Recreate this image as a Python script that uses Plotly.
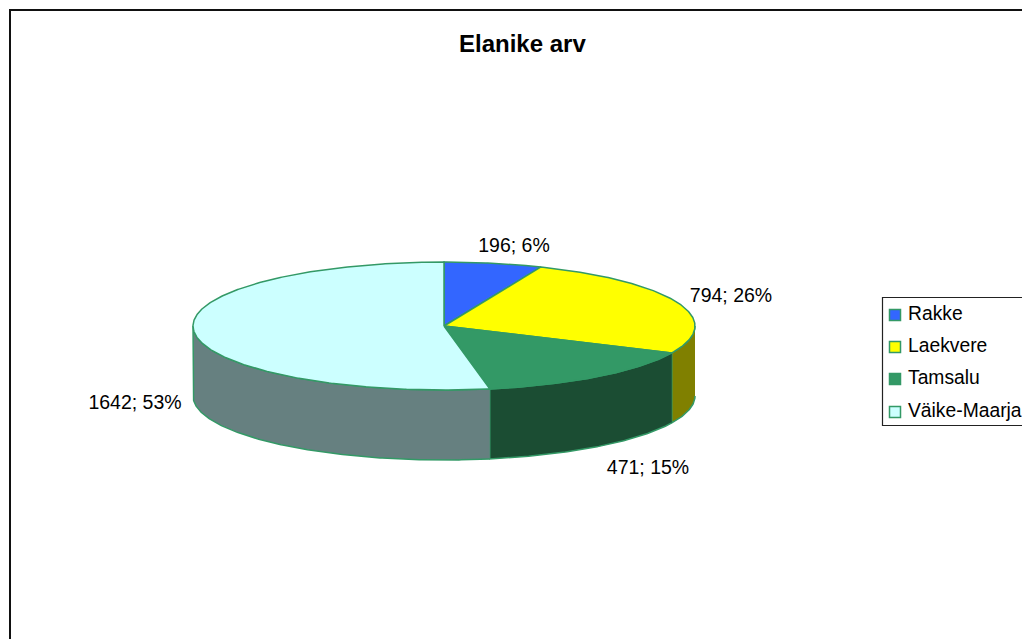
import numpy as np
import plotly.graph_objects as go

# data
categories = ["Rakke", "Laekvere", "Tamsalu", "Väike-Maarja"]
values = [196, 794, 471, 1642]
title = "Elanike arv"

top_colors = ["#3366FF", "#FFFF00", "#339966", "#CCFFFF"]
side_colors = ["#1A3380", "#808000", "#1B4D33", "#668080"]
edge_color = "#339966"

# pie geometry on the page, in pixels
cx, cy = 444, 326
rx, ry = 251, 64
depth = 70

# where the labels and legend rows go
label_pos = [(514, 247), (731, 297), (648, 469), (135, 404)]
legend_marker_x = 895
legend_text_x = 908
legend_y = [315, 347, 379, 412]


def arc(a0, a1):
    # angles in degrees, clockwise from 12 o'clock
    t = np.radians(np.linspace(a0, a1, max(int(abs(a1 - a0)) * 2, 2)))
    return cx + rx * np.sin(t), cy - ry * np.cos(t)


total = sum(values)
edges = np.cumsum([0] + values) / total * 360

fig = go.Figure()

# side walls, only the front half of the pie (90-270 deg) shows
for i in range(len(values)):
    a0 = max(edges[i], 90)
    a1 = min(edges[i + 1], 270)
    if a1 <= a0:
        continue
    x, y = arc(a0, a1)
    fig.add_trace(go.Scatter(
        x=np.concatenate([x, x[::-1]]),
        y=np.concatenate([y, y[::-1] + depth]),
        mode="lines", fill="toself", fillcolor=side_colors[i],
        line=dict(color=edge_color, width=1.5), hoverinfo="skip",
    ))

# top faces
for i in range(len(values)):
    x, y = arc(edges[i], edges[i + 1])
    fig.add_trace(go.Scatter(
        x=np.concatenate([[cx], x, [cx]]),
        y=np.concatenate([[cy], y, [cy]]),
        mode="lines", fill="toself", fillcolor=top_colors[i],
        line=dict(color=edge_color, width=1.5), hoverinfo="skip",
    ))

# data labels
labels = [f"{v}; {round(v / total * 100)}%" for v in values]
fig.add_trace(go.Scatter(
    x=[p[0] for p in label_pos], y=[p[1] for p in label_pos],
    mode="text", text=labels, textposition="middle center",
    textfont=dict(family="Liberation Sans", size=19.5, color="black"),
    hoverinfo="skip",
))

# legend
fig.add_trace(go.Scatter(
    x=[legend_marker_x] * 4, y=legend_y, mode="markers",
    marker=dict(symbol="square", size=11, color=top_colors,
                line=dict(color=edge_color, width=1.5)),
    hoverinfo="skip",
))
fig.add_trace(go.Scatter(
    x=[legend_text_x] * 4, y=legend_y, mode="text", text=categories,
    textposition="middle right",
    textfont=dict(family="Liberation Sans", size=19.3, color="black"),
    hoverinfo="skip",
))

fig.add_annotation(
    x=522, y=43, text=f"<b>{title}</b>", showarrow=False,
    font=dict(family="Liberation Sans", size=24, color="black"),
)

fig.update_layout(
    width=1022, height=639,
    margin=dict(l=0, r=0, t=0, b=0),
    showlegend=False,
    paper_bgcolor="white", plot_bgcolor="white",
    xaxis=dict(range=[0, 1022], visible=False),
    yaxis=dict(range=[639, 0], visible=False),
    shapes=[
        # chart frame, runs off the right and bottom of the page
        dict(type="rect", x0=10, y0=10, x1=1100, y1=700,
             line=dict(color="#111111", width=2), layer="above"),
        # legend box
        dict(type="rect", x0=882.5, y0=297.5, x1=1100, y1=425.5,
             line=dict(color="#222222", width=1.2), layer="below"),
    ],
)

# the page's default body margin would push everything 8px in
fig.write_html("out.html", config=dict(displayModeBar=False),
               post_script="document.body.style.margin = '0';")
